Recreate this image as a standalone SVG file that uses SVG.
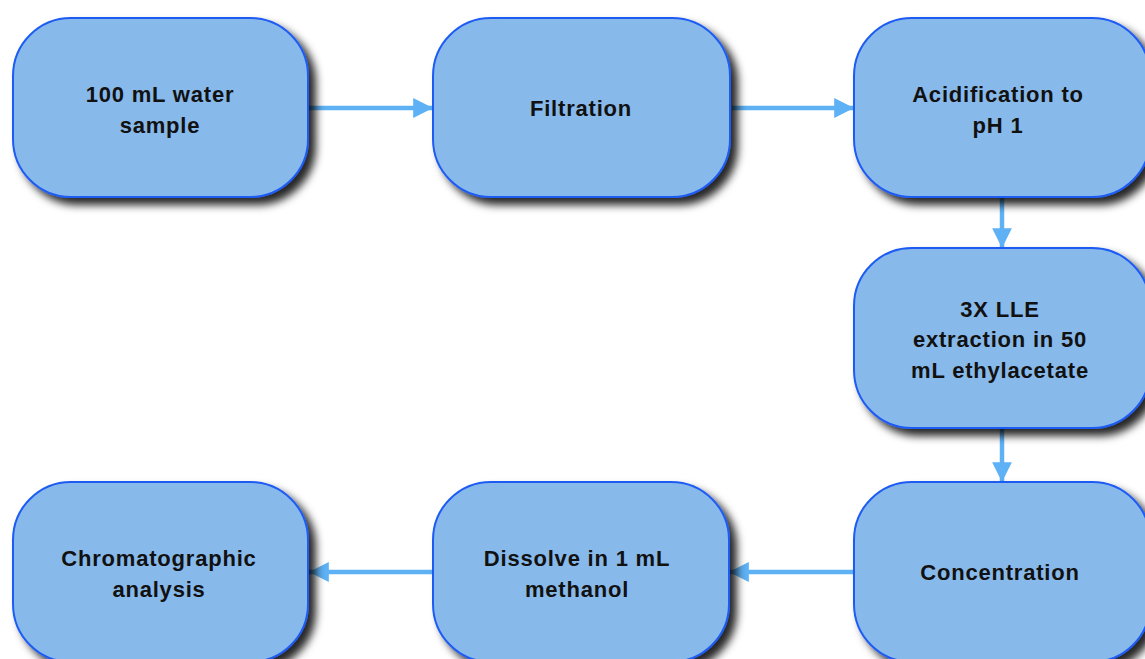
<svg xmlns="http://www.w3.org/2000/svg" width="1145" height="659" viewBox="0 0 1145 659">
<style>
.node rect{fill:#88b9eb;stroke:#1f5cf2;stroke-width:2;filter:url(#sh)}
.node text{font-family:"Liberation Sans",Arial,sans-serif;font-weight:bold;font-size:22px;letter-spacing:0.8px;fill:#111;text-anchor:middle}
.conn line{stroke:#5eb1f4;stroke-width:4.5;marker-end:url(#ah)}
</style>
<defs>
<filter id="sh" x="-10%" y="-10%" width="130%" height="130%">
<feDropShadow dx="7" dy="7" stdDeviation="4" flood-color="#000" flood-opacity="0.85"/>
</filter>
<marker id="ah" markerWidth="5" markerHeight="5" refX="4.4" refY="2.2" orient="auto" markerUnits="strokeWidth">
<path d="M0,0 L4.4,2.2 L0,4.4 Z" fill="#5eb1f4"/>
</marker>
</defs>
<rect width="1145" height="659" fill="#fff"/>
<g class="conn">
<line x1="309" y1="108" x2="433" y2="108"/>
<line x1="732" y1="108" x2="854" y2="108"/>
<line x1="1002" y1="197" x2="1002" y2="248"/>
<line x1="1002" y1="428" x2="1002" y2="482"/>
<line x1="854" y1="572" x2="729" y2="572"/>
<line x1="433" y1="572" x2="309" y2="572"/>
</g>
<g id="n1" class="node"><rect x="13" y="18" width="295" height="179" rx="58" ry="58"/><text x="160" y="102">100 mL water</text><text x="160" y="133">sample</text></g>
<g id="n2" class="node"><rect x="433" y="18" width="297" height="179" rx="58" ry="58"/><text x="581" y="116">Filtration</text></g>
<g id="n3" class="node"><rect x="854" y="18" width="296" height="179" rx="58" ry="58"/><text x="998" y="102">Acidification to</text><text x="998" y="133">pH 1</text></g>
<g id="n4" class="node"><rect x="854" y="248" width="296" height="180" rx="58" ry="58"/><text x="1000" y="317">3X LLE</text><text x="1000" y="347">extraction in 50</text><text x="1000" y="378">mL ethylacetate</text></g>
<g id="n5" class="node"><rect x="854" y="482" width="296" height="180" rx="58" ry="58"/><text x="1000" y="580">Concentration</text></g>
<g id="n6" class="node"><rect x="433" y="482" width="296" height="180" rx="58" ry="58"/><text x="577" y="566">Dissolve in 1 mL</text><text x="577" y="597">methanol</text></g>
<g id="n7" class="node"><rect x="13" y="482" width="295" height="180" rx="58" ry="58"/><text x="159" y="566">Chromatographic</text><text x="159" y="597">analysis</text></g>
</svg>
